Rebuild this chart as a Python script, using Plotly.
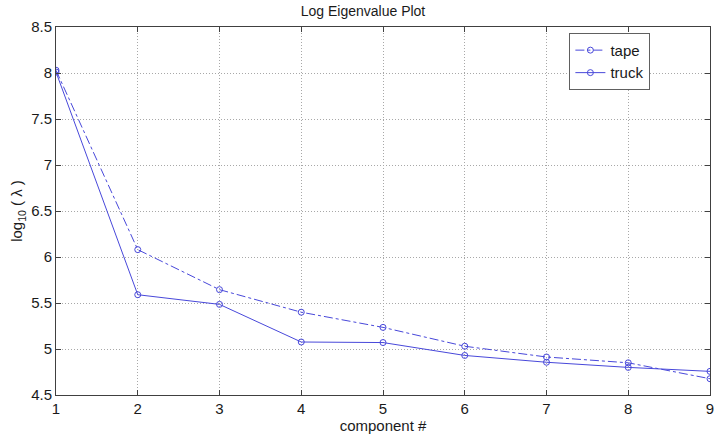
import plotly.graph_objects as go

components = [1, 2, 3, 4, 5, 6, 7, 8, 9]
tape = [8.03, 6.08, 5.645, 5.40, 5.235, 5.03, 4.913, 4.85, 4.677]
truck = [8.01, 5.59, 5.485, 5.076, 5.07, 4.93, 4.856, 4.80, 4.757]
x_ticks = [1, 2, 3, 4, 5, 6, 7, 8, 9]
y_ticks = [4.5, 5, 5.5, 6, 6.5, 7, 7.5, 8, 8.5]
y_tick_text = ["4.5", "5", "5.5", "6", "6.5", "7", "7.5", "8", "8.5"]

blue = "rgb(72,72,218)"
font = "Liberation Sans, Arial, sans-serif"

fig = go.Figure()
fig.add_trace(go.Scatter(x=components, y=tape, name="tape", mode="lines+markers",
                         line=dict(color=blue, width=1, dash="dashdot"),
                         marker=dict(symbol="circle-open", size=6, color=blue, line=dict(width=1))))
fig.add_trace(go.Scatter(x=components, y=truck, name="truck", mode="lines+markers",
                         line=dict(color=blue, width=1),
                         marker=dict(symbol="circle-open", size=6, color=blue, line=dict(width=1))))

axis_common = dict(showline=True, mirror="ticks", linecolor="#404040", linewidth=1,
                   showgrid=True, gridcolor="#a8a8a8", griddash="1px,2px", gridwidth=1,
                   ticks="inside", ticklen=5, tickcolor="#404040",
                   tickfont=dict(family=font, size=15, color="#1a1a1a"), zeroline=False)

fig.update_layout(
    width=726, height=442,
    margin=dict(l=56, r=12, t=27, b=45),
    paper_bgcolor="white", plot_bgcolor="white",
    title=dict(text="Log Eigenvalue Plot", x=0.5, xanchor="center", y=0.985, yanchor="top",
               font=dict(family=font, size=14, color="#1a1a1a")),
    xaxis=dict(range=[1, 9], tickvals=x_ticks,
               title=dict(text="component #", font=dict(family=font, size=15, color="#1a1a1a"), standoff=2),
               **axis_common),
    yaxis=dict(range=[4.5, 8.5], tickvals=y_ticks, ticktext=y_tick_text,
               title=dict(text="log<sub>10</sub> ( λ )", font=dict(family=font, size=15, color="#1a1a1a"), standoff=4),
               **axis_common),
    legend=dict(x=0.785, y=0.984, xanchor="left", yanchor="top",
                bgcolor="white", bordercolor="#606060", borderwidth=1,
                font=dict(family=font, size=15, color="#1a1a1a"),
                tracegroupgap=0, itemwidth=30),
    showlegend=True,
)

fig.write_html("out.html")
